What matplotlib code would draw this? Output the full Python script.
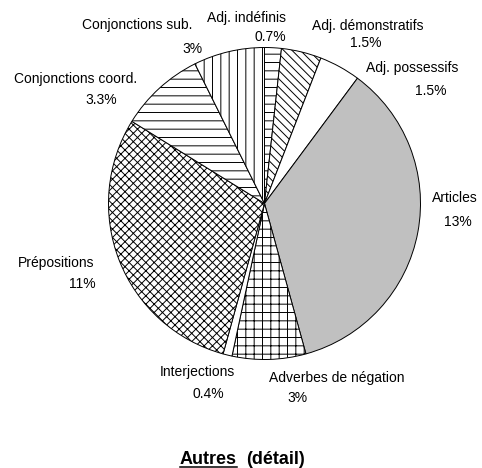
import matplotlib
matplotlib.use("Agg")
import matplotlib.pyplot as plt
from matplotlib.lines import Line2D

plt.rcParams['font.family'] = ['Liberation Sans', 'DejaVu Sans']
plt.rcParams['hatch.linewidth'] = 0.7

# Data (clockwise from the top)
categories = ["Adj. indéfinis", "Adj. démonstratifs", "Adj. possessifs", "Articles",
              "Adverbes de négation", "Interjections", "Prépositions",
              "Conjonctions coord.", "Conjonctions sub."]
values = [0.65, 1.55, 1.6, 13.3, 2.85, 0.35, 11.05, 3.3, 2.75]
pct_labels = ["0.7%", "1.5%", "1.5%", "13%", "3%", "0.4%", "11%", "3.3%", "3%"]

# Styles
facecolors = ["white", "white", "white", "#C0C0C0", "white", "white", "white", "white", "white"]
hatches = ["--", "\\\\\\\\", "", "", "++", "", "xxxx", "--", "||"]

# Label positions in pixels (name centre, pct centre), y from top
name_pos = [(247, 18), (368, 26), (412, 68), (455, 198), (337, 378), (197, 372),
            (56, 263), (76, 79), (137, 25)]
pct_pos = [(270, 37), (366, 43), (431, 91), (458, 222), (297, 398), (208, 394),
           (82, 284), (101, 100), (192, 49)]

W, H = 482, 468
fig = plt.figure(figsize=(W / 100, H / 100), dpi=100)
fig.patch.set_facecolor("white")

cx, cy, r = 264.5, 203.5, 156
ax = fig.add_axes([(cx - r) / W, 1 - (cy + r) / H, 2 * r / W, 2 * r / H])
wedges, _ = ax.pie(values, startangle=90, counterclock=False, colors=facecolors,
                   wedgeprops=dict(edgecolor="black", linewidth=0.7))
for w, h in zip(wedges, hatches):
    w.set_hatch(h)
ax.set_xlim(-1.0, 1.0)
ax.set_ylim(-1.0, 1.0)
ax.set_aspect("equal")
ax.axis("off")

for name, pct, (nx, ny), (px, py) in zip(categories, pct_labels, name_pos, pct_pos):
    fig.text(nx / W, 1 - ny / H, name, ha="center", va="center", fontsize=10, color="black")
    fig.text(px / W, 1 - py / H, pct, ha="center", va="center", fontsize=10, color="black")

# Title with underlined "Autres"
t1 = fig.text(180 / W, 1 - 464 / H, "Autres", ha="left", va="baseline",
              fontsize=13, fontweight="bold")
fig.canvas.draw()
renderer = fig.canvas.get_renderer()
bb = t1.get_window_extent(renderer)
fig.text((bb.x1 + 9) / W, 1 - 464 / H, "(détail)", ha="left", va="baseline",
         fontsize=13, fontweight="bold")
uy = (H - 466.5) / H
fig.add_artist(Line2D([bb.x0 / W, bb.x1 / W], [uy, uy], color="black", linewidth=1.1,
                      transform=fig.transFigure))

fig.savefig("out.png", dpi=100, facecolor="white")
